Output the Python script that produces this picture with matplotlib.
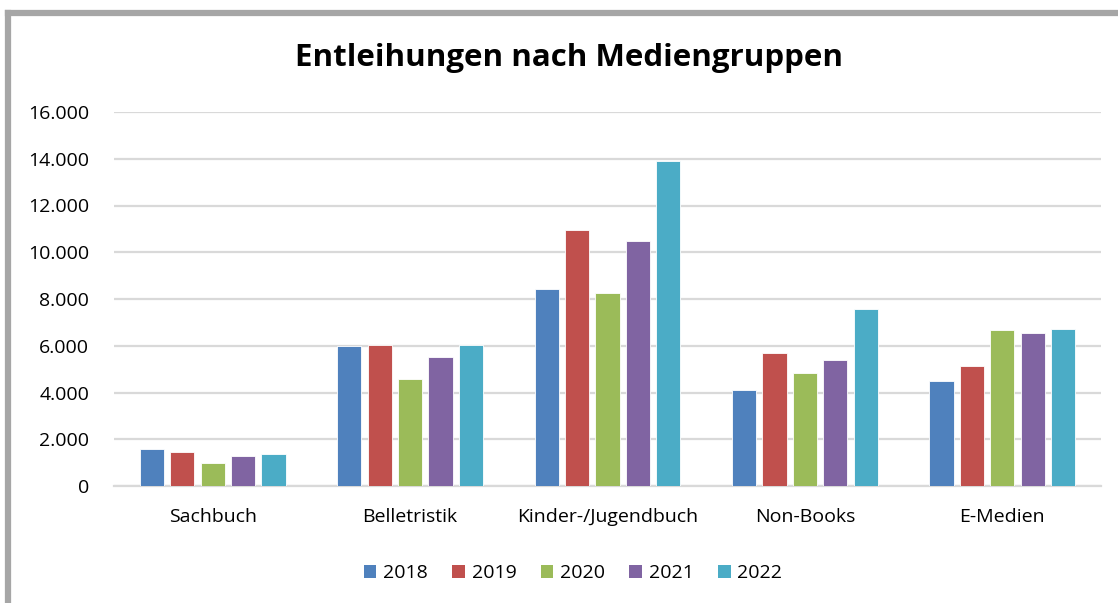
import matplotlib
matplotlib.use("Agg")
import matplotlib.pyplot as plt
from matplotlib.patches import Patch
from matplotlib.lines import Line2D
import numpy as np

categories = ["Sachbuch", "Belletristik", "Kinder-/Jugendbuch", "Non-Books", "E-Medien"]
years = ["2018", "2019", "2020", "2021", "2022"]
v2018 = [1580, 5980, 8420, 4090, 4490]
v2019 = [1460, 6020, 10950, 5700, 5130]
v2020 = [980, 4560, 8240, 4820, 6660]
v2021 = [1270, 5500, 10460, 5390, 6550]
v2022 = [1370, 6020, 13900, 7560, 6710]
series = [v2018, v2019, v2020, v2021, v2022]
yticks = [0, 2000, 4000, 6000, 8000, 10000, 12000, 14000, 16000]
ytick_labels = ["0", "2.000", "4.000", "6.000", "8.000", "10.000", "12.000", "14.000", "16.000"]
colors = ["#4f81bd", "#c0504d", "#9bbb59", "#8064a2", "#4bacc6"]

plt.rcParams['font.family'] = ['Open Sans', 'DejaVu Sans']

W, H = 1118, 603
fig = plt.figure(figsize=(W / 100, H / 100), dpi=100)
fig.patch.set_facecolor("white")

# outer frame (left and top visible)
fig.add_artist(Line2D([8 / W, 8 / W], [0, 1 - 13 / H], color="#a6a6a6", lw=4.5,
                      transform=fig.transFigure, solid_capstyle="projecting"))
fig.add_artist(Line2D([8 / W, 1.0], [1 - 13 / H, 1 - 13 / H], color="#a6a6a6", lw=4.5,
                      transform=fig.transFigure, solid_capstyle="projecting"))

left, right, top, bottom = 114, 1101, 112, 486
ax = fig.add_axes([left / W, 1 - bottom / H, (right - left) / W, (bottom - top) / H])

x = np.arange(len(categories))
step = 0.154
bw = 0.123
for i, (vals, c) in enumerate(zip(series, colors)):
    ax.bar(x + (i - 2) * step, vals, width=bw, color=c, edgecolor="white", linewidth=0.6,
           label=years[i], zorder=3)

ax.set_xlim(-0.5, len(categories) - 0.5)
ax.set_ylim(0, 16000)
ax.set_yticks(yticks)
ax.set_yticklabels(ytick_labels)
ax.set_xticks(x)
ax.set_xticklabels(categories)
ax.tick_params(axis="both", length=0, labelsize=14, colors="#000000")
ax.tick_params(axis="y", pad=18)
ax.tick_params(axis="x", pad=16)
ax.grid(axis="y", color="#d9d9d9", linewidth=1.6, zorder=0)
ax.set_axisbelow(True)
for s in ["top", "right", "left"]:
    ax.spines[s].set_visible(False)
ax.spines["bottom"].set_color("#d9d9d9")
ax.spines["bottom"].set_linewidth(1.6)

fig.text(569 / W, 1 - 58 / H, "Entleihungen nach Mediengruppen", ha="center", va="center",
         fontsize=22.5, fontweight="bold")

handles = [Patch(facecolor=c, edgecolor="none", label=y) for c, y in zip(colors, years)]
fig.legend(handles=handles, loc="center", bbox_to_anchor=(573 / W, 1 - 573 / H), ncol=5,
           frameon=False, fontsize=14, handlelength=0.65, handleheight=0.65,
           handletextpad=0.35, columnspacing=1.25)

fig.savefig("out.png", dpi=100, facecolor="white")
